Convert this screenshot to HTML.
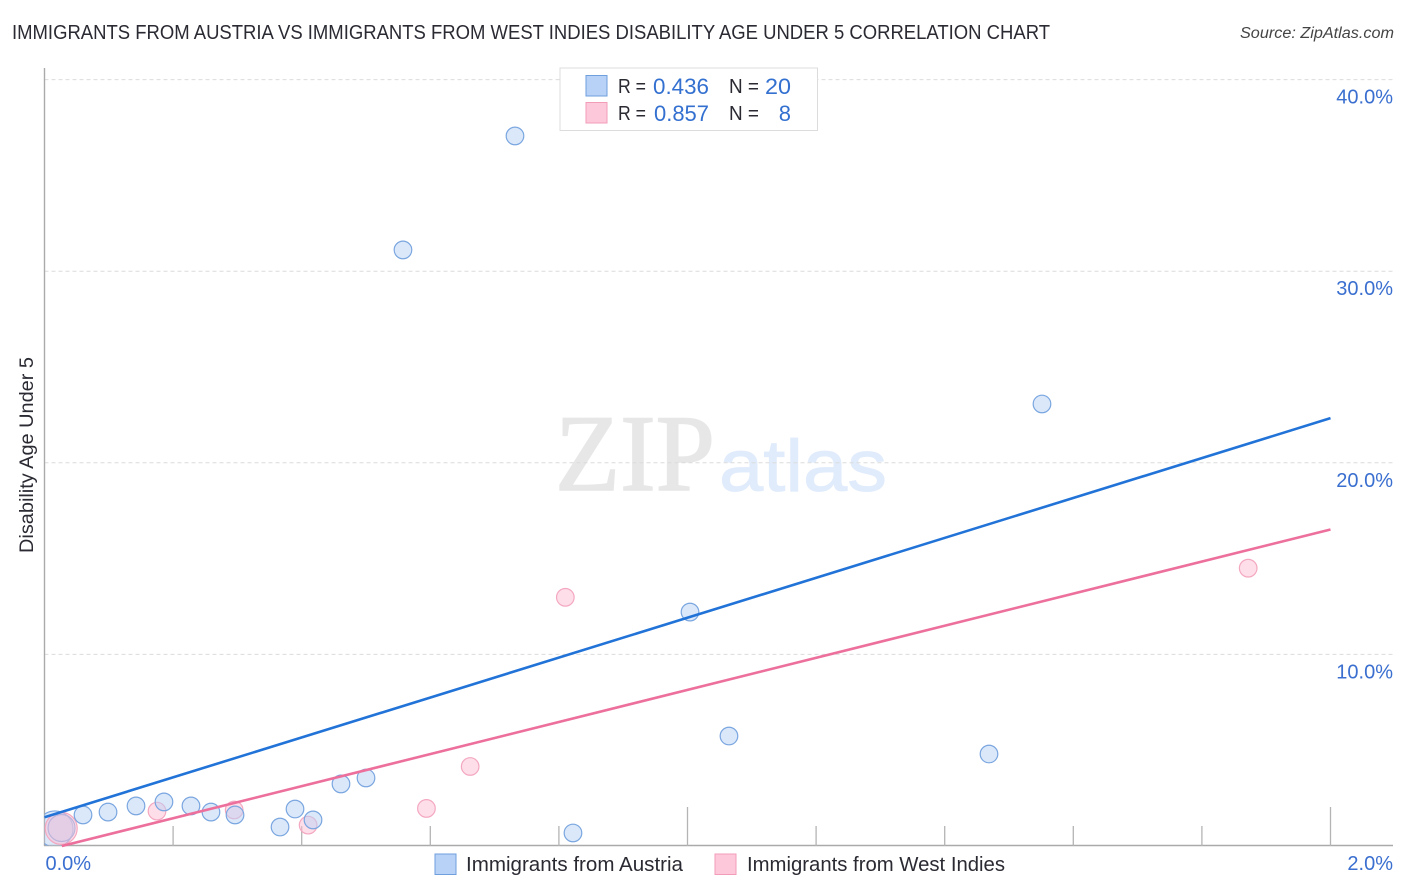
<!DOCTYPE html>
<html lang="en">
<head>
<meta charset="utf-8">
<title>Immigrants from Austria vs Immigrants from West Indies Disability Age Under 5 Correlation Chart</title>
<style>
html,body{margin:0;padding:0;background:#fff;width:1406px;height:892px;overflow:hidden}
svg{display:block;font-family:"Liberation Sans",sans-serif}
</style>
</head>
<body>
<svg id="chart" width="1406" height="892" viewBox="0 0 1406 892">
  <defs><clipPath id="plot-clip"><rect x="44.5" y="68" width="1349" height="777.5"/></clipPath></defs>
  <text x="12" y="39" font-size="20" fill="#2a2a33" textLength="1038" lengthAdjust="spacingAndGlyphs">IMMIGRANTS FROM AUSTRIA VS IMMIGRANTS FROM WEST INDIES DISABILITY AGE UNDER 5 CORRELATION CHART</text>
  <text x="1394" y="38" font-size="15.5" font-style="italic" fill="#444" text-anchor="end" textLength="154" lengthAdjust="spacingAndGlyphs">Source: ZipAtlas.com</text>
  <text x="555" y="490" font-size="109" fill="#e7e7e7" stroke="#e7e7e7" stroke-width="1.6" font-family="'Liberation Serif',serif" textLength="160" lengthAdjust="spacingAndGlyphs">ZIP</text>
  <text x="719" y="491" font-size="73" fill="#e0ebfb" stroke="#e0ebfb" stroke-width="0.8" textLength="168" lengthAdjust="spacingAndGlyphs">atlas</text>
  <g id="grid"></g>
  <g id="axes"></g>
  <g id="points" clip-path="url(#plot-clip)"></g>
  <g id="lines"></g>
  <text transform="translate(33 455) rotate(-90)" font-size="19" fill="#2a2a33" text-anchor="middle" textLength="196" lengthAdjust="spacingAndGlyphs">Disability Age Under 5</text>

  <g>
    <rect x="560" y="68" width="257.5" height="62.5" fill="#fff" stroke="#dcdcdc" stroke-width="1"/>
    <rect x="586" y="75.5" width="21" height="20.5" fill="#b7d2f6" stroke="#6f9fdc"/>
    <rect x="586" y="102.5" width="21" height="20.5" fill="#fdc8da" stroke="#f29cb8"/>
    <g font-size="20" fill="#2a2a33">
      <text x="618" y="93" textLength="28" lengthAdjust="spacingAndGlyphs">R =</text>
      <text x="729" y="93" textLength="30" lengthAdjust="spacingAndGlyphs">N =</text>
      <text x="618" y="120" textLength="28" lengthAdjust="spacingAndGlyphs">R =</text>
      <text x="729" y="120" textLength="30" lengthAdjust="spacingAndGlyphs">N =</text>
    </g>
    <g font-size="22" fill="#3370d0">
      <text x="653" y="94" textLength="56" lengthAdjust="spacingAndGlyphs">0.436</text>
      <text x="791" y="94" text-anchor="end" textLength="26" lengthAdjust="spacingAndGlyphs">20</text>
      <text x="654" y="121" textLength="55" lengthAdjust="spacingAndGlyphs">0.857</text>
      <text x="791" y="121" text-anchor="end">8</text>
    </g>
  </g>

  <g>
    <rect x="435" y="854" width="21" height="20.5" fill="#b7d2f6" stroke="#6f9fdc"/>
    <text x="466" y="871" font-size="20" fill="#2a2a33" textLength="217" lengthAdjust="spacingAndGlyphs">Immigrants from Austria</text>
    <rect x="715" y="854" width="21" height="20.5" fill="#fdc8da" stroke="#f29cb8"/>
    <text x="747" y="871" font-size="20" fill="#2a2a33" textLength="258" lengthAdjust="spacingAndGlyphs">Immigrants from West Indies</text>
  </g>
</svg>
<script>
// Austria series: x in %, y in %, relative sample weight
const austriaX = [0.0163, 0.0265, 0.0599, 0.0988, 0.1423, 0.1858, 0.2278, 0.2589, 0.2963, 0.3663, 0.3896, 0.4176, 0.4611, 0.5000, 0.5575, 0.7317, 0.8219, 1.0039, 1.0645, 1.4689, 1.5513];
const austriaY = [0.89, 0.94, 1.62, 1.77, 2.09, 2.30, 2.09, 1.77, 1.62, 0.99, 1.93, 1.36, 3.24, 3.55, 31.11, 37.06, 0.68, 12.21, 5.74, 4.80, 23.07];
const austriaWeight = [4.2, 2.35, 1, 1, 1, 1, 1, 1, 1, 1, 1, 1, 1, 1, 1, 1, 1, 1, 1, 1, 1];

// West Indies series
const westIndiesX = [0.0260, 0.1750, 0.2950, 0.4100, 0.5940, 0.6620, 0.8100, 1.8720];
const westIndiesY = [0.92, 1.82, 1.88, 1.09, 1.96, 4.15, 12.98, 14.50];
const westIndiesWeight = [3.3, 1, 1, 1, 1, 1, 1, 1];

// Regression lines: end values in %
const austriaTrendX = [0, 2];
const austriaTrendY = [1.50, 22.33];
const westIndiesTrendX = [0.027, 2];
const westIndiesTrendY = [0, 16.52];

// Axis ticks
const yTickValues = [10, 20, 30, 40];
const yTickLabels = ['10.0%', '20.0%', '30.0%', '40.0%'];
const xTickValues = [0.2, 0.4, 0.6, 0.8, 1.0, 1.2, 1.4, 1.6, 1.8, 2.0];
const xMajorTicks = [1.0, 2.0];
const xEdgeValues = [0, 2];
const xEdgeLabels = ['0.0%', '2.0%'];

const NS = 'http://www.w3.org/2000/svg';
const xScale = v => 44.5 + v * 643;
const yScale = v => 846 - v * 19.16;
const radius = w => 8.8 * Math.sqrt(w);

function make(tag, attrs, parent) {
  const el = document.createElementNS(NS, tag);
  for (const k in attrs) el.setAttribute(k, attrs[k]);
  parent.appendChild(el);
  return el;
}

const gridG = document.getElementById('grid');
const axesG = document.getElementById('axes');
const pointsG = document.getElementById('points');
const linesG = document.getElementById('lines');

yTickValues.forEach((v, i) => {
  const line = make('line', {x1: 44.5, x2: 1393, y1: yScale(v), y2: yScale(v), stroke: '#dcdcdc', 'stroke-width': 1, 'stroke-dasharray': '4 3'}, gridG);
  
  
  const label = make('text', {x: 1393, y: yScale(v) + 24, 'text-anchor': 'end', 'font-size': 20, fill: '#3a6fd0'}, axesG);
  label.textContent = yTickLabels[i];
  
  
});

const yAxisLine = make('line', {x1: 44.5, x2: 44.5, y1: 68, y2: 846, stroke: '#aaaaaa', 'stroke-width': 1.4}, axesG);


const xAxisLine = make('line', {x1: 44, x2: 1393, y1: 845.5, y2: 845.5, stroke: '#aaaaaa', 'stroke-width': 1.4}, axesG);



xTickValues.forEach(v => {
  const top = xMajorTicks.includes(v) ? 807 : 826;
  const tick = make('line', {x1: xScale(v), x2: xScale(v), y1: top, y2: 846, stroke: '#b4b4b4', 'stroke-width': 1.3}, axesG);
  
  
});

xEdgeValues.forEach((v, i) => {
  const label = make('text', {x: i === 0 ? xScale(v) + 1 : 1393, y: 870, 'text-anchor': i === 0 ? 'start' : 'end', 'font-size': 20, fill: '#3a6fd0'}, axesG);
  label.textContent = xEdgeLabels[i];
  
  
});

function drawAustria(i) {
  const c = make('circle', {cx: xScale(austriaX[i]), cy: yScale(austriaY[i]), r: radius(austriaWeight[i]), fill: '#b7d2f6', 'fill-opacity': 0.5, stroke: '#7aa6e0', 'stroke-width': 1.2}, pointsG);
  
  
}

// Large Austria markers sit beneath the pink series; the small ones sit above it.
austriaX.forEach((v, i) => { if (austriaWeight[i] > 2) drawAustria(i); });

westIndiesX.forEach((v, i) => {
  const c = make('circle', {cx: xScale(v), cy: yScale(westIndiesY[i]), r: radius(westIndiesWeight[i]), fill: '#fdc0d4', 'fill-opacity': 0.5, stroke: '#f4a8c0', 'stroke-width': 1.2}, pointsG);
  
  
});

austriaX.forEach((v, i) => { if (austriaWeight[i] <= 2) drawAustria(i); });

const blueLine = make('line', {x1: xScale(austriaTrendX[0]), y1: yScale(austriaTrendY[0]), x2: xScale(austriaTrendX[1]), y2: yScale(austriaTrendY[1]), stroke: '#2273d8', 'stroke-width': 2.6}, linesG);


const pinkLine = make('line', {x1: xScale(westIndiesTrendX[0]), y1: yScale(westIndiesTrendY[0]), x2: xScale(westIndiesTrendX[1]), y2: yScale(westIndiesTrendY[1]), stroke: '#ec6f9c', 'stroke-width': 2.6}, linesG);


</script>
</body>
</html>
